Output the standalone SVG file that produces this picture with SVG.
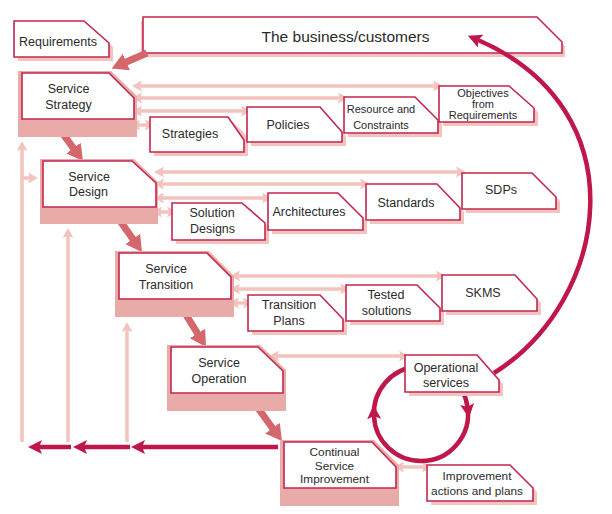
<svg xmlns="http://www.w3.org/2000/svg" width="612" height="514" viewBox="0 0 612 514">
  <style>
    .box { fill: #ffffff; stroke: #c4264f; stroke-width: 1.6; }
    .shadow { fill: #f2c3bf; }
    .block { fill: #e9aba7; }
    .lbl { font-family: "Liberation Sans", Arial, sans-serif; font-size: 12.5px; fill: #2a2a2a; text-anchor: middle; }
    .sm { font-size: 11px; }
    .md { font-size: 11.8px; }
    .big { font-size: 15.5px; }
    .link { fill: none; stroke: #f3c3be; stroke-width: 3.5; marker-start: url(#lightHead); marker-end: url(#lightHead); }
    .feed { fill: none; stroke: #f3c3be; stroke-width: 3.5; marker-end: url(#lightHead); }
    .flow { fill: none; stroke: #d4676b; stroke-width: 7; marker-end: url(#flowHead); }
    .loop { fill: none; stroke: #c0174b; stroke-width: 4.5; }
    .loopArrow { fill: none; stroke: #c0174b; stroke-width: 4.5; marker-end: url(#redHead); }
  </style>
  <defs>
    <marker id="lightHead" viewBox="0 0 10 11" markerUnits="userSpaceOnUse" markerWidth="10" markerHeight="11" refX="2" refY="5.5" orient="auto-start-reverse">
      <path d="M0,0 L10,5.5 L0,11 L2,5.5 z" fill="#f3c3be"/>
    </marker>
    <marker id="flowHead" viewBox="0 0 16 18" markerUnits="userSpaceOnUse" markerWidth="16" markerHeight="18" refX="2" refY="9" orient="auto">
      <path d="M0,0 L16,9 L0,18 z" fill="#d4676b"/>
    </marker>
    <marker id="redHead" viewBox="0 0 14 14" markerUnits="userSpaceOnUse" markerWidth="14" markerHeight="14" refX="3" refY="7" orient="auto">
      <path d="M0,0 L14,7 L0,14 L3,7 z" fill="#c0174b"/>
    </marker>
  </defs>

  <!-- drawn first so the return arrow can land on top of it -->
  <g id="business">
    <polygon class="shadow" points="141,21 539,21 565,46 565,57 141,57"/>
    <polygon class="box" points="143,17 537,17 562,42 562,53 143,53"/>
    <text class="lbl big" x="345.5" y="42">The business/customers</text>
  </g>

  <g id="connectors">
    <!-- lifecycle flow between stages -->
    <path class="flow" d="M147,53 L124.5,62.8"/>
    <path class="flow" d="M60,130 L74.7,149.8"/>
    <path class="flow" d="M118,218 L133.9,240.6"/>
    <path class="flow" d="M183,310 L198.6,335.1"/>
    <path class="flow" d="M255,404 L273.7,429.7"/>

    <!-- strategy outputs -->
    <path class="link" d="M140,86 H435"/>
    <path class="link" d="M140,98 H340"/>
    <path class="link" d="M140,111 H243"/>
    <path class="link" d="M138,125 H147"/>
    <!-- design outputs -->
    <path class="link" d="M162,172 H458"/>
    <path class="link" d="M162,184 H362"/>
    <path class="link" d="M162,198 H264"/>
    <path class="link" d="M160,212 H169"/>
    <!-- transition outputs -->
    <path class="link" d="M238,276 H438"/>
    <path class="link" d="M238,289 H342"/>
    <path class="link" d="M237,303 H245"/>
    <!-- operation output -->
    <path class="link" d="M277,356 H401"/>
    <!-- improvement output -->
    <path class="link" d="M402,467 H424"/>

    <!-- feedback risers -->
    <path class="feed" d="M22,442 V149"/>
    <path class="feed" d="M68,442 V236"/>
    <path class="feed" d="M127,442 V330"/>
    <path class="feed" d="M22,178 H30"/>

    <!-- improvement feedback along the bottom -->
    <path class="loopArrow" d="M278,447 H142"/>
    <path class="loopArrow" d="M130,447 H84"/>
    <path class="loopArrow" d="M71,447 H39"/>

    <!-- operation / improvement cycle -->
    <path class="loop" d="M467.5,407 A47,47 0 0 1 421,461"/>
    <path class="loopArrow" d="M421,461 A47,47 0 0 1 374,416"/>
    <path class="loopArrow" d="M374,416 A47,47 0 0 1 467.5,407"/>

    <!-- return to the business -->
    <path class="loopArrow" d="M494,373 C610,300 640,110 478,40"/>
  </g>

  <g id="requirements">
    <polygon class="shadow" points="18,25 88,25 113,47 113,61 18,61"/>
    <polygon class="box" points="14,21 84,21 109,43 109,57 14,57"/>
    <text class="lbl" x="58" y="46">Requirements</text>
  </g>

  <g id="service-strategy">
    <polygon class="block" points="18,71 111,71 137,96 137,137 18,137"/>
    <polygon class="box" points="22,73 109,73 134,98 134,119 22,119"/>
    <text class="lbl" x="68.5" y="93">Service</text>
    <text class="lbl" x="68.5" y="109">Strategy</text>
  </g>

  <g id="service-design">
    <polygon class="block" points="40,159 134,159 158,182 158,224 40,224"/>
    <polygon class="box" points="43,161 132,161 156,183 156,207 43,207"/>
    <text class="lbl" x="89" y="181">Service</text>
    <text class="lbl" x="88.5" y="196">Design</text>
  </g>

  <g id="service-transition">
    <polygon class="block" points="115,251 209,251 234,276 234,317 115,317"/>
    <polygon class="box" points="119,253 207,253 231,277 231,299 119,299"/>
    <text class="lbl" x="166" y="273">Service</text>
    <text class="lbl" x="166" y="289">Transition</text>
  </g>

  <g id="service-operation">
    <polygon class="block" points="167,345 260,345 286,370 286,411 167,411"/>
    <polygon class="box" points="171,347 258,347 283,371 283,393 171,393"/>
    <text class="lbl" x="219" y="367">Service</text>
    <text class="lbl" x="219" y="383">Operation</text>
  </g>

  <g id="continual-improvement">
    <polygon class="block" points="280,440 374,440 399,465 399,506 280,506"/>
    <polygon class="box" points="284,442 372,442 396,467 396,488 284,488"/>
    <text class="lbl md" x="334.5" y="456">Continual</text>
    <text class="lbl md" x="334.5" y="469.5">Service</text>
    <text class="lbl md" x="334.5" y="483">Improvement</text>
  </g>

  <g id="strategies">
    <polygon class="shadow" points="154,121 232,121 248,137 248,156 154,156"/>
    <polygon class="box" points="150,117 228,117 244,140 244,152 150,152"/>
    <text class="lbl" x="190" y="138">Strategies</text>
  </g>

  <g id="policies">
    <polygon class="shadow" points="251,111 324,111 346,136 346,146 251,146"/>
    <polygon class="box" points="247,107 320,107 342,132 342,142 247,142"/>
    <text class="lbl" x="288" y="129">Policies</text>
  </g>

  <g id="resources">
    <polygon class="shadow" points="348,101 419,101 442,124 442,137 348,137"/>
    <polygon class="box" points="344,97 415,97 438,120 438,133 344,133"/>
    <text class="lbl sm" x="381" y="113">Resource and</text>
    <text class="lbl sm" x="381" y="129">Constraints</text>
  </g>

  <g id="objectives">
    <polygon class="shadow" points="443,90 513,90 538,112 538,126 443,126"/>
    <polygon class="box" points="439,86 509,86 534,108 534,122 439,122"/>
    <text class="lbl sm" x="483" y="97">Objectives</text>
    <text class="lbl sm" x="483" y="108">from</text>
    <text class="lbl sm" x="483" y="119">Requirements</text>
  </g>

  <g id="solution-designs">
    <polygon class="shadow" points="176,207 246,207 269,227 269,244 176,244"/>
    <polygon class="box" points="172,203 242,203 265,223 265,240 172,240"/>
    <text class="lbl" x="212" y="217">Solution</text>
    <text class="lbl" x="212.5" y="233">Designs</text>
  </g>

  <g id="architectures">
    <polygon class="shadow" points="272,197 342,197 367,222 367,234 272,234"/>
    <polygon class="box" points="268,193 338,193 363,218 363,230 268,230"/>
    <text class="lbl" x="309" y="216">Architectures</text>
  </g>

  <g id="standards">
    <polygon class="shadow" points="370,188 441,188 464,212 464,224 370,224"/>
    <polygon class="box" points="366,184 437,184 460,208 460,220 366,220"/>
    <text class="lbl" x="406" y="207">Standards</text>
  </g>

  <g id="sdps">
    <polygon class="shadow" points="466,177 536,177 560,201 560,213 466,213"/>
    <polygon class="box" points="462,173 532,173 556,197 556,209 462,209"/>
    <text class="lbl" x="501" y="194">SDPs</text>
  </g>

  <g id="transition-plans">
    <polygon class="shadow" points="252,299 324,299 347,323 347,335 252,335"/>
    <polygon class="box" points="248,295 320,295 343,319 343,331 248,331"/>
    <text class="lbl" x="289" y="309">Transition</text>
    <text class="lbl" x="289" y="325">Plans</text>
  </g>

  <g id="tested-solutions">
    <polygon class="shadow" points="350,289 421,289 444,312 444,325 350,325"/>
    <polygon class="box" points="346,285 417,285 440,308 440,321 346,321"/>
    <text class="lbl" x="386" y="299">Tested</text>
    <text class="lbl" x="386.5" y="315">solutions</text>
  </g>

  <g id="skms">
    <polygon class="shadow" points="446,279 519,279 541,303 541,315 446,315"/>
    <polygon class="box" points="442,275 515,275 537,299 537,311 442,311"/>
    <text class="lbl" x="483" y="297">SKMS</text>
  </g>

  <g id="operational-services">
    <polygon class="shadow" points="409,359 481,359 503,384 503,396 409,396"/>
    <polygon class="box" points="405,355 477,355 499,380 499,392 405,392"/>
    <text class="lbl" x="446" y="372">Operational</text>
    <text class="lbl" x="446" y="387">services</text>
  </g>

  <g id="improvement-actions">
    <polygon class="shadow" points="431,469 514,469 537,492 537,505 431,505"/>
    <polygon class="box" points="427,465 510,465 533,488 533,501 427,501"/>
    <text class="lbl md" x="477" y="480">Improvement</text>
    <text class="lbl md" x="477" y="494.5">actions and plans</text>
  </g>
</svg>
